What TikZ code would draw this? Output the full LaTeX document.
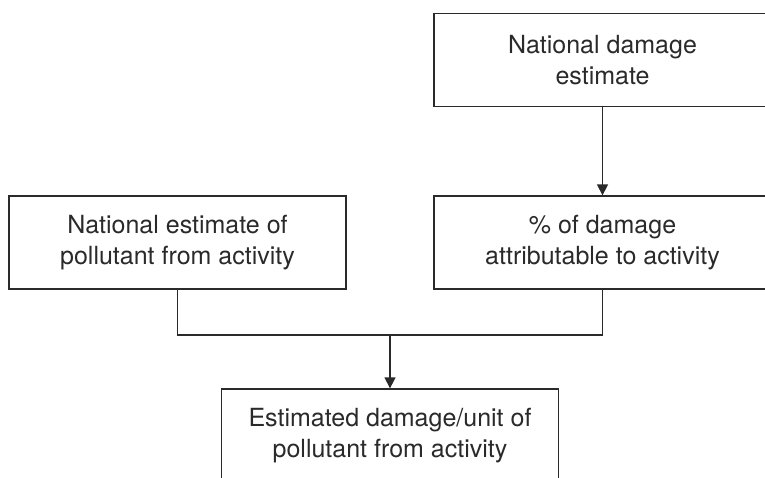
\documentclass[tikz,border=0pt]{standalone}
\usepackage{fontspec}
\setmainfont{TeX Gyre Heros}
\usetikzlibrary{arrows.meta}
\definecolor{ink}{HTML}{2A2A2A}
\tikzset{
  box/.style={draw=ink, line width=1.3pt, minimum width=337pt, minimum height=93pt,
    inner sep=0pt, align=center, text=ink,
    font=\fontsize{25pt}{31pt}\selectfont},
  link/.style={draw=ink, line width=1.3pt},
  arr/.style={link, -{Triangle[length=11pt,width=11pt]}}
}
\begin{document}
\begin{tikzpicture}[x=1pt,y=-1pt]
\path[use as bounding box] (0,0) rectangle (765,477);
\clip (0,0) rectangle (765,477);
\fill[white] (0,0) rectangle (765,477);
\node[box] (nat) at (602.5,60) {National damage\\estimate};
\node[box] (pol) at (177.5,242.5) {National estimate of\\pollutant from activity};
\node[box] (pct) at (602.5,242.5) {\% of damage\\attributable to activity};
\node[box] (est) at (390,435.5) {Estimated damage/unit of\\pollutant from activity};
\coordinate (jl) at (pol.south |- 0,335);
\coordinate (jr) at (pct.south |- 0,335);
\coordinate (jm) at (est.north |- 0,335);
\draw[arr] (nat.south) -- (pct.north);
\draw[link] (pol.south) -- (jl) -- (jr) -- (pct.south);
\draw[arr] (jm) -- (est.north);
\end{tikzpicture}
\end{document}
